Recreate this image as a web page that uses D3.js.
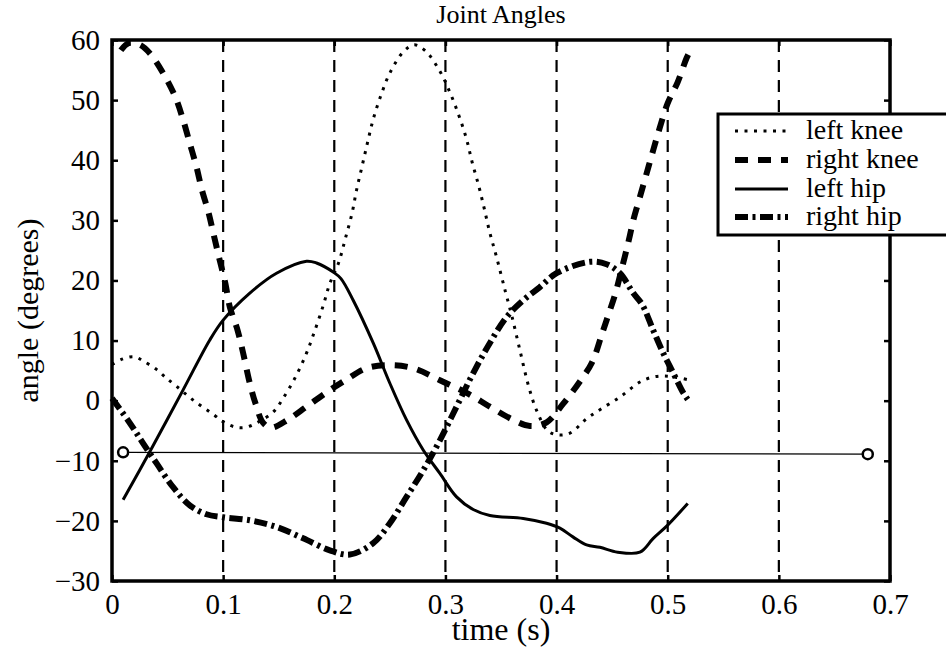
<!DOCTYPE html>
<html>
<head>
<meta charset="utf-8">
<script src="https://cdn.jsdelivr.net/npm/d3@7"></script>
<style>
  html, body { margin: 0; padding: 0; background: #fff; }
  svg { display: block; }
  text { font-family: "Liberation Serif", "DejaVu Serif", serif; fill: #000; }
</style>
</head>
<body>
<svg id="chart" width="946" height="652"></svg>
<script>
// ---- data (time in s, angle in degrees) ----
const leftKnee = [[0.0,6.0],[0.009,6.9],[0.02,7.3],[0.028,6.6],[0.04,5.2],[0.048,3.9],[0.058,2.4],[0.073,0.1],[0.092,-2.4],[0.1,-3.5],[0.111,-4.4],[0.121,-4.4],[0.131,-3.6],[0.145,-1.9],[0.154,0.4],[0.165,3.9],[0.175,7.9],[0.182,11.4],[0.19,15.8],[0.196,19.5],[0.204,23],[0.21,27],[0.216,31.2],[0.22,35],[0.225,39],[0.23,43],[0.235,46.8],[0.242,50.8],[0.25,54.5],[0.262,58],[0.272,59.2],[0.282,58.2],[0.295,54.8],[0.304,51.3],[0.312,47.5],[0.319,43.5],[0.324,39.7],[0.33,35.7],[0.335,31.9],[0.34,27.9],[0.346,23.9],[0.354,18.1],[0.36,13.9],[0.367,8.4],[0.375,2.3],[0.382,-1.6],[0.392,-5.0],[0.401,-5.7],[0.412,-5.4],[0.427,-3.0],[0.439,-1.5],[0.457,0.6],[0.475,3.1],[0.486,3.9],[0.496,4.1],[0.507,3.9],[0.52,3.4]];
const rightKnee = [[0.008,58.3],[0.015,59.5],[0.025,59.2],[0.034,57.8],[0.046,54.5],[0.057,50.5],[0.064,46.7],[0.07,42.8],[0.076,38.9],[0.081,35],[0.087,31.2],[0.092,27.2],[0.097,23.3],[0.102,19.5],[0.106,15.6],[0.113,11.7],[0.118,7.9],[0.124,2.9],[0.129,-0.4],[0.136,-3.7],[0.143,-4.5],[0.158,-3.2],[0.175,-1.0],[0.194,1.5],[0.211,3.5],[0.229,5.4],[0.25,5.9],[0.271,5.4],[0.295,3.4],[0.319,1.3],[0.34,-1.0],[0.361,-3.2],[0.376,-4.2],[0.391,-3.6],[0.406,-0.5],[0.421,3.2],[0.432,6.4],[0.441,11.2],[0.447,14.5],[0.453,17.9],[0.459,22.2],[0.465,26.7],[0.469,30],[0.475,33.9],[0.481,37.8],[0.487,41.7],[0.493,45.5],[0.5,49.5],[0.509,53],[0.517,57],[0.521,58.5]];
const leftHip = [[0.01,-16.5],[0.034,-8.5],[0.064,1.8],[0.088,10.1],[0.1,13.4],[0.124,17.9],[0.148,21.2],[0.175,23.2],[0.184,22.9],[0.199,21.4],[0.206,20.3],[0.217,16.7],[0.235,9.6],[0.25,2.9],[0.265,-3.2],[0.28,-8.2],[0.295,-12.1],[0.31,-16],[0.325,-18.1],[0.34,-19.1],[0.37,-19.6],[0.391,-20.4],[0.403,-21.2],[0.415,-22.7],[0.427,-24],[0.439,-24.4],[0.455,-25.2],[0.475,-25.2],[0.487,-22.9],[0.5,-20.7],[0.518,-17.1]];
const rightHip = [[0.0,0.4],[0.016,-3.7],[0.028,-7.1],[0.04,-10.4],[0.055,-14.4],[0.07,-17.4],[0.085,-18.9],[0.1,-19.4],[0.124,-19.9],[0.148,-21],[0.172,-22.9],[0.196,-24.9],[0.214,-25.6],[0.235,-23.7],[0.25,-20.4],[0.265,-16],[0.28,-11.6],[0.295,-6.6],[0.31,-1.0],[0.325,4.6],[0.34,9.6],[0.355,13.9],[0.37,16.7],[0.385,18.9],[0.4,21.2],[0.43,23.1],[0.445,22.7],[0.457,21.2],[0.469,17.9],[0.477,16.0],[0.487,11.7],[0.496,7.9],[0.505,4.6],[0.514,1.3],[0.518,0.2]];
const refLine = [[0.01,-8.6],[0.68,-8.9]];
const gridTimes = [0.1,0.2,0.3,0.4,0.5,0.6];
const xTicks = [0,0.1,0.2,0.3,0.4,0.5,0.6,0.7];
const yTicks = [-30,-20,-10,0,10,20,30,40,50,60];
const seriesNames = ["left knee","right knee","left hip","right hip"];

// ---- layout ----
const svg = d3.select("#chart");
const L = 112, R = 890, T = 40, B = 581;
const x = d3.scaleLinear().domain([0,0.7]).range([L,R]);
const y = d3.scaleLinear().domain([-30,60]).range([B,T]);

const styles = [
  {data: leftKnee,  w: 3,   dash: "3,6.5"},
  {data: rightKnee, w: 6,   dash: "13,10"},
  {data: leftHip,   w: 3,   dash: null},
  {data: rightHip,  w: 6,   dash: "13,4.5,3,4.5"}
];

const fmt = v => (v < 0 ? "\u2212" + Math.abs(v) : String(v));

// grid (vertical dashed lines)
svg.append("g").selectAll("line").data(gridTimes).join("line")
  .attr("x1", d => x(d)).attr("x2", d => x(d))
  .attr("y1", T).attr("y2", B)
  .attr("stroke", "#000").attr("stroke-width", 2.2)
  .attr("stroke-dasharray", "12,8");

// curves
const line = d3.line().x(d => x(d[0])).y(d => y(d[1])).curve(d3.curveCatmullRom.alpha(0.5));
const plot = svg.append("g");
styles.forEach(s => {
  plot.append("path").attr("d", line(s.data))
    .attr("fill", "none").attr("stroke", "#000")
    .attr("stroke-width", s.w)
    .attr("stroke-dasharray", s.dash)
    .attr("stroke-linejoin", "round");
});

// reference line with circle markers
plot.append("path").attr("d", d3.line().x(d => x(d[0])).y(d => y(d[1]))(refLine))
  .attr("fill", "none").attr("stroke", "#000").attr("stroke-width", 1.2);
plot.selectAll("circle").data(refLine).join("circle")
  .attr("cx", d => x(d[0])).attr("cy", d => y(d[1])).attr("r", 5)
  .attr("fill", "#fff").attr("stroke", "#000").attr("stroke-width", 2.5);

// axes with inward ticks
const tl = 6;
svg.append("g").attr("transform", `translate(0,${B})`)
  .call(d3.axisBottom(x).tickValues(xTicks).tickSizeInner(-tl).tickSizeOuter(0).tickPadding(12).tickFormat(d => d === 0 ? "0" : String(d)))
  .call(g => g.select(".domain").remove())
  .call(g => g.selectAll("line").attr("stroke-width", 2.5))
  .call(g => g.selectAll("text").attr("font-size", 29).attr("font-family", "Liberation Serif"));
svg.append("g").attr("transform", `translate(0,${T})`)
  .call(d3.axisTop(x).tickValues(xTicks).tickSizeInner(-tl).tickSizeOuter(0).tickFormat(""))
  .call(g => g.select(".domain").remove())
  .call(g => g.selectAll("line").attr("stroke-width", 2.5));
svg.append("g").attr("transform", `translate(${L},0)`)
  .call(d3.axisLeft(y).tickValues(yTicks).tickSizeInner(-tl).tickSizeOuter(0).tickPadding(12).tickFormat(fmt))
  .call(g => g.select(".domain").remove())
  .call(g => g.selectAll("line").attr("stroke-width", 2.5))
  .call(g => g.selectAll("text").attr("font-size", 29).attr("font-family", "Liberation Serif"));
svg.append("g").attr("transform", `translate(${R},0)`)
  .call(d3.axisRight(y).tickValues(yTicks).tickSizeInner(-tl).tickSizeOuter(0).tickFormat(""))
  .call(g => g.select(".domain").remove())
  .call(g => g.selectAll("line").attr("stroke-width", 2.5));

// frame
svg.append("rect").attr("x", L).attr("y", T).attr("width", R - L).attr("height", B - T)
  .attr("fill", "none").attr("stroke", "#000").attr("stroke-width", 3.5);

// titles
svg.append("text").attr("x", (L + R) / 2).attr("y", 23).attr("text-anchor", "middle")
  .attr("font-size", 26).text("Joint Angles");
svg.append("text").attr("x", (L + R) / 2).attr("y", 640).attr("text-anchor", "middle")
  .attr("font-size", 32).text("time (s)");
svg.append("text").attr("transform", `translate(38,${(T + B) / 2}) rotate(-90)`)
  .attr("text-anchor", "middle").attr("font-size", 30).text("angle (degrees)");

// legend
const lg = svg.append("g");
lg.append("rect").attr("x", 718).attr("y", 114).attr("width", 300).attr("height", 121)
  .attr("fill", "#fff").attr("stroke", "#000").attr("stroke-width", 3);
const rowY = [131, 160, 189, 217];
styles.forEach((s, i) => {
  lg.append("line").attr("x1", 735).attr("x2", 788).attr("y1", rowY[i]).attr("y2", rowY[i])
    .attr("stroke", "#000").attr("stroke-width", s.w).attr("stroke-dasharray", s.dash);
  lg.append("text").attr("x", 806).attr("y", rowY[i] + 8).attr("font-size", 28).text(seriesNames[i]);
});
</script>
</body>
</html>
